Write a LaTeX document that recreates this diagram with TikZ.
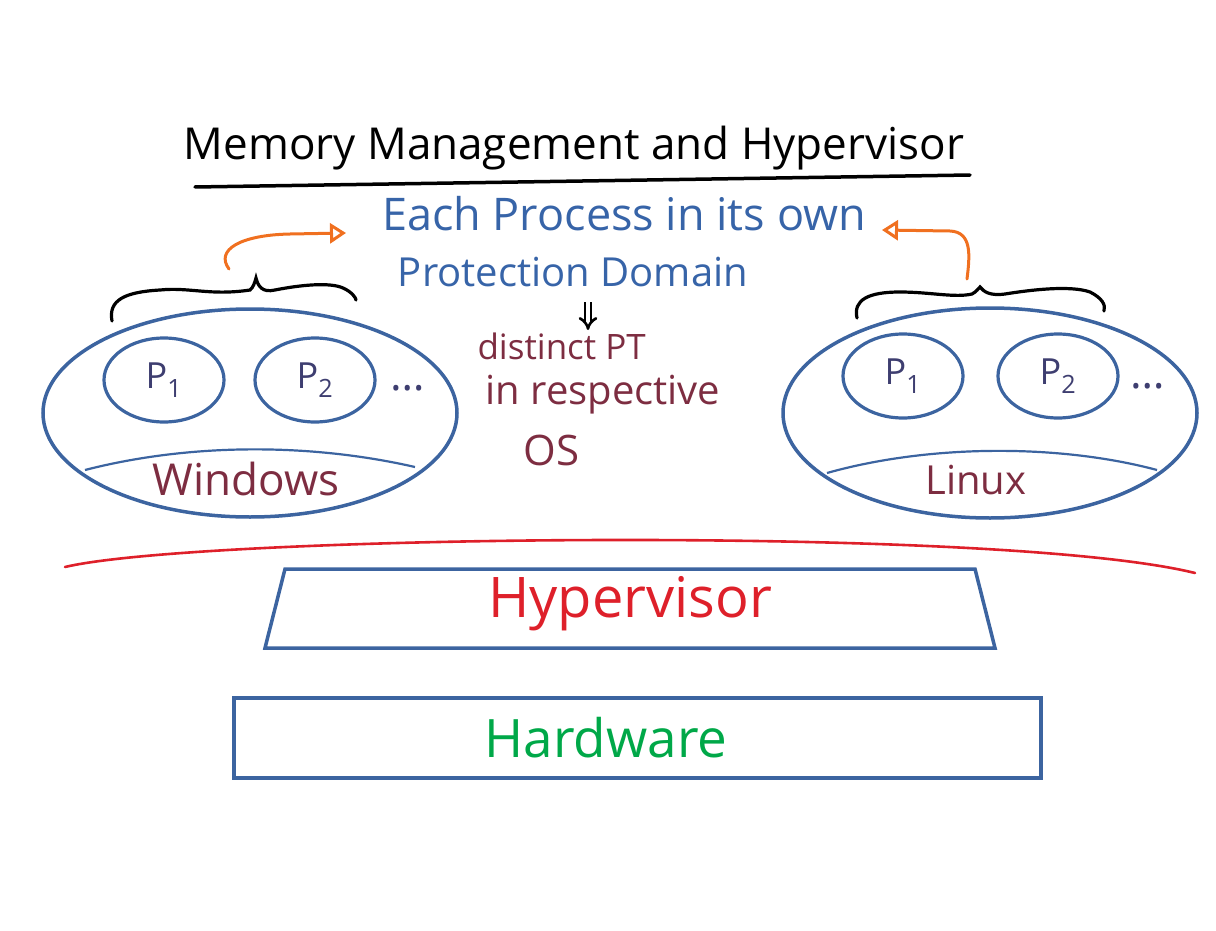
\documentclass[tikz,border=0pt]{standalone}
\usepackage{fontspec}
\setmainfont{Open Sans}
\usetikzlibrary{arrows.meta,shapes.geometric}
\definecolor{eblue}{RGB}{60,100,160}
\definecolor{tblue}{RGB}{55,100,168}
\definecolor{maroon}{RGB}{125,45,65}
\definecolor{hred}{RGB}{222,32,42}
\definecolor{hgreen}{RGB}{0,168,72}
\definecolor{horange}{RGB}{240,112,32}
\definecolor{pnavy}{RGB}{62,62,112}
\tikzset{
  osell/.style={draw=eblue,line width=3.5pt,ellipse,inner sep=0pt},
  procell/.style={draw=eblue,line width=3.2pt,ellipse,inner sep=0pt},
  chord/.style={draw=eblue,line width=2.2pt},
  brace/.style={draw=black,line width=3.2pt,line cap=round},
  orarrow/.style={draw=horange,line width=3pt,line cap=round,-{Triangle[open,length=16pt,width=20pt]}},
  layerbox/.style={draw=eblue,line width=3.5pt},
  bluetext/.style={text=tblue},
  marooontext/.style={text=maroon},
  ptext/.style={text=pnavy,font=\fontsize{36}{42}\selectfont},
}
\begin{document}
\begin{tikzpicture}[x=1pt,y=-1pt]
\useasboundingbox (0,0) rectangle (1216,931);
% title
\node (title) at (574,148) {\fontsize{44}{50}\selectfont Memory Management and Hypervisor};
\draw[line width=3.5pt,line cap=round] (195,187) -- (970,175);
% blue text
\node[bluetext,font=\fontsize{45}{50}\selectfont] (each) at (624,214) {Each Process in its own};
\node[bluetext,font=\fontsize{40}{46}\selectfont] (prot) at (573,272) {Protection Domain};
% implies arrow
\coordinate (ia) at (588,302);
\coordinate (ib) at (588,330);
\draw[line width=2.6pt,double distance=3.5pt,-{Implies[length=9pt]}] (ia) -- (ib);
% maroon text
\node[marooontext,anchor=west,font=\fontsize{35}{40}\selectfont] (dist) at (474,346) {distinct PT};
\node[marooontext,anchor=west,font=\fontsize{40}{46}\selectfont] (resp) at (482,395) {in respective};
\node[marooontext,anchor=west,font=\fontsize{42}{48}\selectfont] (os) at (520,450) {OS};
% left OS
\node[osell,minimum width=414pt,minimum height=208pt] (win) at (250,413) {};
\node[procell,minimum width=120pt,minimum height=84pt,ptext] (wp1) at (164,380) {P\textsubscript{1}};
\node[procell,minimum width=120pt,minimum height=84pt,ptext] (wp2) at (315,380) {P\textsubscript{2}};
\node[ptext,font=\fontsize{44}{50}\selectfont] (wdots) at (408,388) {\dots};
\draw[chord] (85,470) .. controls (190,443) and (310,443) .. (415,467);
\node[text=maroon,font=\fontsize{44}{50}\selectfont] (wname) at (246,479) {Windows};
% right OS
\node[osell,minimum width=414pt,minimum height=210pt] (lin) at (990,413) {};
\node[procell,minimum width=120pt,minimum height=84pt,ptext] (lp1) at (903,376) {P\textsubscript{1}};
\node[procell,minimum width=120pt,minimum height=84pt,ptext] (lp2) at (1058,376) {P\textsubscript{2}};
\node[ptext,font=\fontsize{44}{50}\selectfont] (ldots) at (1148,386) {\dots};
\draw[chord] (827,473) .. controls (930,444) and (1060,444) .. (1157,470);
\node[text=maroon,font=\fontsize{40}{46}\selectfont] (lname) at (976,480) {Linux};
% braces
\draw[brace] (112,321) .. controls (108,300) and (125,292) .. (160,290)
  .. controls (190,287) and (210,296) .. (250,290) .. controls (253,288) and (255,282) .. (256,278)
  .. controls (258,286) and (262,293) .. (275,290) .. controls (300,285) and (330,282) .. (343,288)
  .. controls (352,292) and (356,298) .. (356,300);
\draw[brace] (857,318) .. controls (853,300) and (868,292) .. (900,292)
  .. controls (930,292) and (955,298) .. (972,294) .. controls (976,292) and (979,288) .. (980,287)
  .. controls (984,292) and (990,296) .. (1005,294) .. controls (1030,290) and (1070,285) .. (1090,292)
  .. controls (1102,298) and (1106,305) .. (1104,311);
% orange arrows
\coordinate (oa1) at (229,269);
\coordinate (oa2) at (346,233);
\draw[orarrow] (oa1) .. controls (215,250) and (240,235) .. (290,234) -- (oa2);
\coordinate (ob1) at (967,279);
\coordinate (ob2) at (882,230);
\draw[orarrow] (ob1) .. controls (970,255) and (972,232) .. (950,231) -- (ob2);
% red arc
\draw[hred,line width=2.6pt,line cap=round] (65,567) .. controls (200,535) and (1000,525) .. (1195,573);
% hypervisor
\draw[layerbox] (285,569) -- (975,569) -- (995,648) -- (265,648) -- cycle;
\node[text=hred,font=\fontsize{56}{62}\selectfont] (hyp) at (630,604) {Hypervisor};
% hardware
\node[layerbox,minimum width=807pt,minimum height=80pt] (hw) at (637.5,738) {};
\node[text=hgreen,font=\fontsize{53}{60}\selectfont] (hwt) at (606,738) {Hardware};
\end{tikzpicture}
\end{document}
